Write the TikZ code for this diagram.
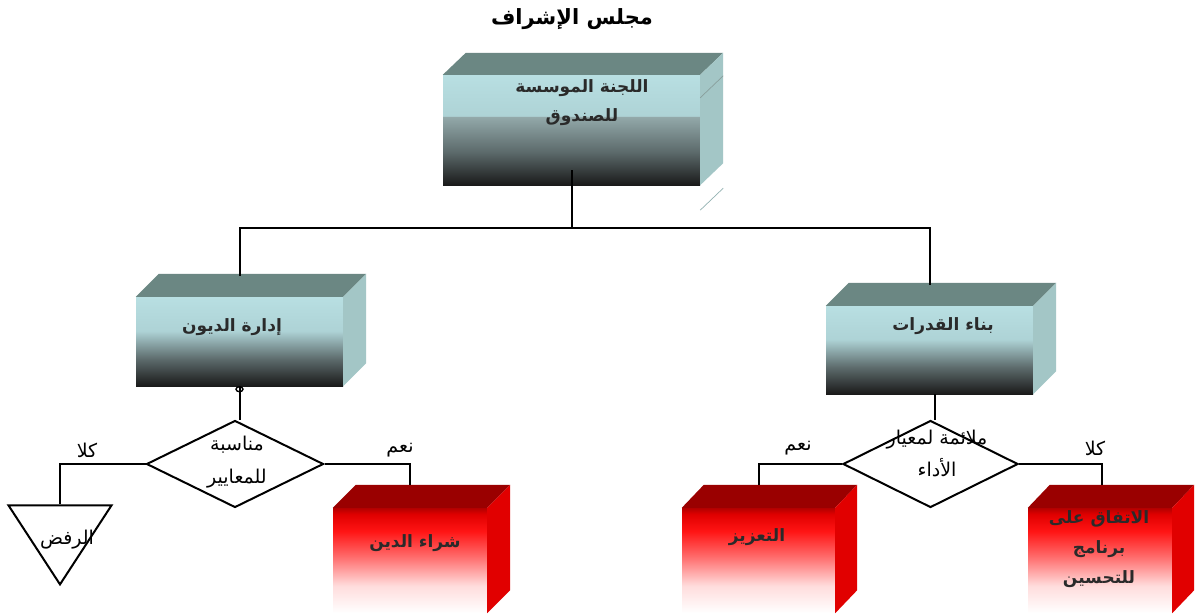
\documentclass[tikz,border=0pt]{standalone}
\usepackage{fontspec}
\newfontfamily\ar[Script=Arabic]{DejaVu Sans}
\TeXXeTstate=1
\usetikzlibrary{shapes.geometric}
\definecolor{btop}{HTML}{6B8783}
\definecolor{bside}{HTML}{A3C6C6}
\definecolor{rtop}{HTML}{9A0000}
\definecolor{rside}{HTML}{E10000}
\definecolor{bl1}{HTML}{B8DFE2}
\definecolor{bl2}{HTML}{AED3D6}
\definecolor{bl3}{HTML}{93A9AA}
\definecolor{bl4}{HTML}{5C6A6B}
\definecolor{bl5}{HTML}{1A1A1A}
\definecolor{rd1}{HTML}{B30000}
\definecolor{rd2}{HTML}{E00000}
\definecolor{rd3}{HTML}{FF1414}
\definecolor{rd4}{HTML}{FF6A6A}
\definecolor{rd5}{HTML}{FFDCDC}
\definecolor{txt}{HTML}{2A2A2A}
\pgfdeclareverticalshading{topsh}{100bp}{color(0bp)=(bl5); color(25bp)=(bl5); color(40bp)=(bl4); color(56bp)=(bl3); color(56.4bp)=(bl2); color(75bp)=(bl1); color(100bp)=(bl1)}
\pgfdeclareverticalshading{bluesh}{100bp}{color(0bp)=(bl5); color(25bp)=(bl5); color(40bp)=(bl4); color(56bp)=(bl2); color(75bp)=(bl1); color(100bp)=(bl1)}
\pgfdeclareverticalshading{redsh}{100bp}{color(0bp)=(white); color(25bp)=(white); color(38bp)=(rd5); color(52bp)=(rd4); color(64bp)=(rd3); color(72bp)=(rd2); color(75bp)=(rd1); color(100bp)=(rd1)}
\newcommand\boxfaces[5]{%
  \fill[#4] (#1.north west) -- ++(#2,-#3) -- ([shift={(#2,-#3)}]#1.north east) -- (#1.north east) -- cycle;
  \fill[#5] (#1.north east) -- ++(#2,-#3) -- ([shift={(#2,-#3)}]#1.south east) -- (#1.south east) -- cycle;}
\tikzset{
  front/.style={rectangle, inner sep=0pt, draw=none, shade},
  bfront/.style={front, shading=bluesh},
  rfront/.style={front, shading=redsh, minimum height=105, minimum width=154},
  decision/.style={diamond, draw, line width=2pt, inner sep=0pt, minimum width=177, minimum height=87},
  btxt/.style={text=txt, font=\ar\fontsize{17}{21}\selectfont\bfseries, align=center},
  lbl/.style={font=\ar\fontsize{19}{23}\selectfont, align=center},
  conn/.style={line width=2pt},
}
\begin{document}
\begin{tikzpicture}[x=1pt,y=-1pt]
\useasboundingbox[fill=white] (0,0) rectangle (1199,615);

% title
\node[font=\ar\fontsize{21}{25}\selectfont\bfseries] (title) at (572,19) {\beginR مجلس الإشراف\endR};

% top box
\node[front, shading=topsh, minimum width=257, minimum height=110] (fund) at (571.5,130) {};
\boxfaces{fund}{23}{22}{btop}{bside}
\draw[btop!80, line width=0.7pt] ([yshift=-23pt]fund.north east) -- ++(23,-22);
\draw[bside!90!black, line width=0.7pt] ([yshift=-25pt]fund.south east) -- ++(23,-22);
\node[btxt] (fundt) at (582,103) {\beginR اللجنة الموسسة\endR\\[8pt]\beginR للصندوق\endR};

% second level
\node[bfront, minimum width=207, minimum height=89] (debt) at (239.5,341.5) {};
\boxfaces{debt}{23}{23}{btop}{bside}
\node[btxt] (debtt) at (232,327) {\beginR إدارة الديون\endR};

\node[bfront, minimum width=207, minimum height=88] (cap) at (929.5,350) {};
\boxfaces{cap}{23}{23}{btop}{bside}
\node[btxt] (capt) at (943,326) {\beginR بناء القدرات\endR};

% junction
\coordinate (j) at (571.5,228);
\draw[conn] ([yshift=15pt]fund.south) -- (j);
\draw[conn] (j) -| ([yshift=21pt]debt.north);
\draw[conn] (j) -| ([yshift=21pt]cap.north);

% decisions
\node[decision] (d1) at (235,464) {};
\node[lbl] (d1t) at (237,462) {\beginR مناسبة\endR\\[10pt]\beginR للمعايير\endR};
\node[decision, minimum width=175] (d2) at (930.5,464) {};
\node[lbl] (d2t) at (937,453) {\beginR ملائمة لمعيار\endR\\[9pt]\beginR الأداء\endR};

% reject triangle
\node[draw, line width=2pt, isosceles triangle, isosceles triangle stretches, shape border rotate=270,
      minimum width=103, minimum height=79, inner sep=0pt, anchor=apex] (rej) at (60,587) {};
\node[lbl] (rejt) at (67,540) {\beginR الرفض\endR};

% red boxes
\node[rfront] (buy) at (410,560.5) {};
\boxfaces{buy}{23}{23}{rtop}{rside}
\node[btxt] (buyt) at (415,543) {\beginR شراء الدين\endR};

\node[rfront, minimum width=153] (reinf) at (758.5,560.5) {};
\boxfaces{reinf}{22}{23}{rtop}{rside}
\node[btxt] (reinft) at (757,537) {\beginR التعزيز\endR};

\node[rfront, minimum width=144] (impr) at (1100,560.5) {};
\boxfaces{impr}{22}{23}{rtop}{rside}
\node[btxt] (imprt) at (1099,549) {\beginR الاتفاق على\endR\\[9pt]\beginR برنامج\endR\\[9pt]\beginR للتحسين\endR};

% connectors lower
\draw[conn] (debt.south) -- (debt.south |- d1.north);
\draw[line width=1.4pt] ([yshift=-3pt]debt.south) ellipse (3.5pt and 2.5pt);
\draw[conn] (d1.west) -| (rej.lower side);
\draw[conn] (d1.east) -| ([yshift=23pt]buy.north);
\draw[conn] ([xshift=5pt]cap.south) -- ([xshift=5pt]cap.south |- d2.north);
\draw[conn] (d2.west) -| ([yshift=23pt]reinf.north);
\draw[conn] (d2.east) -| ([xshift=2pt,yshift=23pt]impr.north);

% branch labels
\node[lbl] (no1) at (87,450) {\beginR كلا\endR};
\node[lbl] (yes1) at (400,450) {\beginR نعم\endR};
\node[lbl] (yes2) at (798,448) {\beginR نعم\endR};
\node[lbl] (no2) at (1095,448) {\beginR كلا\endR};
\end{tikzpicture}
\end{document}
